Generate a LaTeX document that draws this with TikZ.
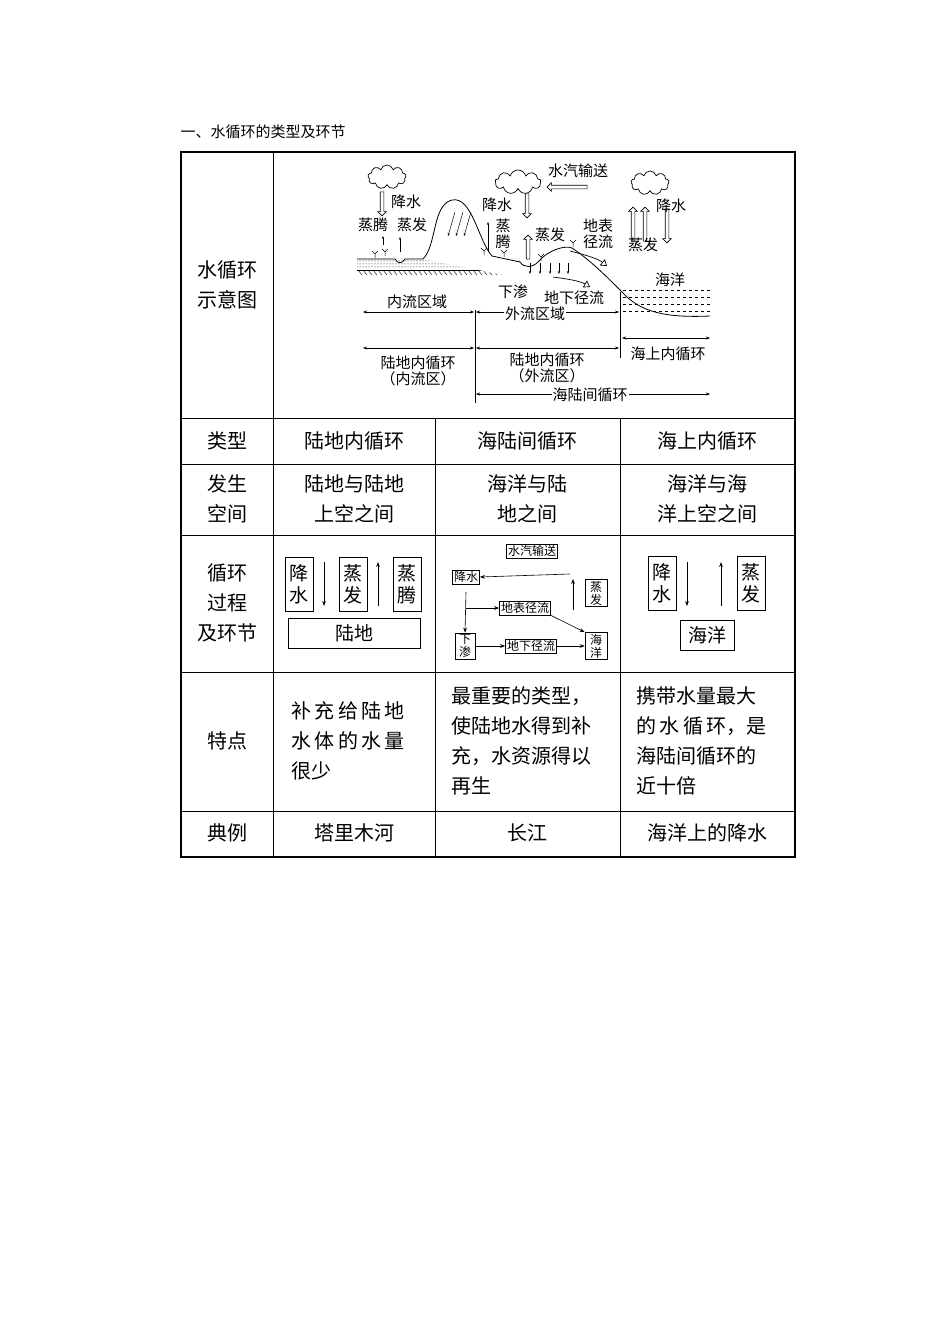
\documentclass[tikz,border=0pt]{standalone}
\usepackage{fontspec}
\setmainfont{Noto Sans CJK SC}
\usetikzlibrary{shapes.symbols,shapes.arrows,arrows.meta,patterns}
\begin{document}
\begin{tikzpicture}[x=1pt,y=-1pt,
 cell/.style={font=\fontsize{20}{30}\selectfont,align=center},
 dg/.style={font=\fontsize{15}{16}\selectfont,inner sep=0pt},
 bx/.style={draw,font=\fontsize{19}{22}\selectfont,inner sep=1pt,align=center,line width=0.8pt},
 sbx/.style={draw,font=\fontsize{12}{13}\selectfont,inner sep=1.5pt,align=center,line width=0.7pt},
 ar/.style={-{Stealth[length=5pt]},line width=0.9pt},
 hol/.style={draw,fill=white,single arrow,single arrow head extend=2.5pt,minimum height=24pt,minimum width=6pt,inner sep=1.5pt,line width=0.6pt},
 cl/.style={draw,cloud,cloud puffs=9,aspect=1.6,minimum width=38pt,minimum height=24pt,line width=0.7pt}]
\useasboundingbox (0,0) rectangle (950,1344);
\node[anchor=west,font=\fontsize{15}{16}\selectfont] (head) at (177,132) {一、水循环的类型及环节};
% table
\draw[line width=2pt] (181,152) rectangle (795,857);
\draw[line width=0.8pt] (273,152)--(273,857);
\foreach \y in {418,464,535,672,811} \draw[line width=0.8pt] (181,\y)--(795,\y);
\foreach \x in {435,620} \draw[line width=0.8pt] (\x,418)--(\x,857);
\node[cell] (l1) at (227,285) {水循环\\示意图};
\node[cell] (l2) at (227,441) {类型};
\node[cell] (l3) at (227,499) {发生\\空间};
\node[cell] (l4) at (227,603) {循环\\过程\\及环节};
\node[cell] (l5) at (227,741) {特点};
\node[cell] (l6) at (227,833) {典例};
\node[cell] (t1) at (354,441) {陆地内循环};
\node[cell] (t2) at (527,441) {海陆间循环};
\node[cell] (t3) at (707,441) {海上内循环};
\node[cell] (s1) at (354,499) {陆地与陆地\\上空之间};
\node[cell] (s2) at (527,499) {海洋与陆\\地之间};
\node[cell] (s3) at (707,499) {海洋与海\\洋上空之间};
\node[cell,align=left,anchor=west] (f1) at (288,741) {补\,充\,给\,陆\,地\\水\,体\,的\,水\,量\\很少};
\node[cell,align=left,anchor=west] (f2) at (448,741) {最重要的类型，\\使陆地水得到补\\充，水资源得以\\再生};
\node[cell,align=left,anchor=west] (f3) at (633,741) {携带水量最大\\的\,水\,循\,环，是\\海陆间循环的\\近十倍};
\node[cell] (e1) at (354,833) {塔里木河};
\node[cell] (e2) at (527,833) {长江};
\node[cell] (e3) at (707,833) {海洋上的降水};
% process col2
\node[bx,minimum width=28pt,minimum height=54pt] (a1) at (299,584) {降\\水};
\node[bx,minimum width=28pt,minimum height=54pt] (a2) at (353,584) {蒸\\发};
\node[bx,minimum width=28pt,minimum height=54pt] (a3) at (407,584) {蒸\\腾};
\node[bx,minimum width=132pt,minimum height=30pt] (a4) at (354,633) {陆地};
\coordinate (a5) at (324,562); \coordinate (a6) at (324,606);
\draw[ar] (a5)--(a6);
\coordinate (a7) at (378,606); \coordinate (a8) at (378,562);
\draw[ar] (a7)--(a8);
% process col3
\node[sbx] (b1) at (532,551) {水汽输送};
\node[sbx] (b2) at (466,577) {降水};
\node[sbx,minimum width=22pt] (b3) at (596,593) {蒸\\发};
\node[sbx] (b4) at (525,608) {地表径流};
\node[sbx,minimum width=20pt] (b5) at (465,646) {下\\渗};
\node[sbx] (b6) at (531,646) {地下径流};
\node[sbx,minimum width=22pt] (b7) at (596,646) {海\\洋};
\coordinate (b8) at (570,574);
\draw[ar,line width=0.6pt] (b8)--(b2.east);
\coordinate (b9) at (573,610); \coordinate (b10) at (573,579);
\draw[ar,line width=0.6pt] (b9)--(b10);
\coordinate (b11) at (466,592);
\draw[ar,line width=0.6pt] (b11)--(b5.north);
\coordinate (b12) at (466,608);
\draw[ar,line width=0.6pt] (b12)--(b4.west);
\draw[ar,line width=0.6pt] (b4.south east)--(b7.north west);
\draw[ar,line width=0.6pt] (b5.east)--(b6.west);
\draw[ar,line width=0.6pt] (b6.east)--(b7.west);
% process col4
\node[bx,minimum width=28pt,minimum height=54pt] (c1) at (662,583) {降\\水};
\node[bx,minimum width=28pt,minimum height=54pt] (c2) at (751,583) {蒸\\发};
\node[bx,minimum width=54pt,minimum height=30pt] (c3) at (707,635) {海洋};
\coordinate (c4) at (687,562); \coordinate (c5) at (687,606);
\draw[ar] (c4)--(c5);
\coordinate (c6) at (721,606); \coordinate (c7) at (721,562);
\draw[ar] (c6)--(c7);
% ===== diagram =====
\node[cl] (k1) at (387,177) {};
\node[cl,minimum width=46pt] (k2) at (518,182) {};
\node[cl] (k3) at (650,183) {};
\node[dg] (d1) at (578,171) {水汽输送};
\node[hol,shape border rotate=180,minimum height=40pt] (h1) at (568,187) {};
\node[dg] (d2) at (406,202) {降水};
\node[hol,shape border rotate=270] (h2) at (382,203) {};
\node[dg] (d3) at (373,225) {蒸腾};
\node[dg] (d4) at (412,225) {蒸发};
\coordinate (g1) at (383,245); \coordinate (g2) at (383,236);
\draw[-{Stealth[length=3pt]},line width=0.6pt] (g1)--(g2);
\coordinate (g3) at (400,252); \coordinate (g4) at (400,237);
\draw[-{Stealth[length=3pt]},line width=0.6pt] (g3)--(g4);
% ground
\fill[pattern=dots] (357,258) rectangle (520,268);
\draw[line width=0.8pt] (357,259)--(395,259) .. controls (398,264) and (402,264) .. (405,259)--(423,259);
\draw[line width=0.8pt] (357,270)--(520,270);
\foreach \x in {358,363,...,518} \draw[line width=0.4pt] (\x,270)--(\x+4,275);
% mountain
\draw[line width=0.8pt,fill=white] (423,259) .. controls (437,245) and (432,205) .. (452,200) .. controls (472,196) and (478,240) .. (492,256) -- (520,262) .. controls (524,268) and (532,268) .. (538,262) .. controls (548,250) and (565,245) .. (572,248) .. controls (590,260) and (605,275) .. (622,292) .. controls (640,312) and (665,318) .. (710,316);
\foreach \x in {0,8,16} \draw[-{Stealth[length=3pt]},line width=0.5pt] (455+\x,212)--(448+\x,236);
% Y plants
\foreach \x/\y in {375/258, 385/256, 484/255, 504/257, 541/261, 573/247} {
 \draw[line width=0.5pt] (\x,\y)--(\x,\y-4) (\x-3,\y-7)--(\x,\y-4)--(\x+3,\y-7);}
\node[dg] (d5) at (497,205) {降水};
\node[dg,align=center] (d6) at (503,234) {蒸\\腾};
\node[hol,shape border rotate=270] (h3) at (527,205) {};
\coordinate (g5) at (488,252); \coordinate (g6) at (488,222);
\draw[-{Stealth[length=3pt]},line width=0.6pt] (g5)--(g6);
\node[hol,shape border rotate=90] (h4) at (528,248) {};
\node[dg] (d7) at (550,235) {蒸发};
\node[dg,align=center] (d8) at (598,234) {地表\\径流};
\draw[line width=0.7pt,-{Triangle[open,length=6pt,width=8pt]}] (570,251) .. controls (585,255) and (597,258) .. (607,266);
\draw[line width=0.7pt,-{Triangle[open,length=6pt,width=8pt]}] (553,277) .. controls (568,279) and (580,281) .. (590,287);
\foreach \x in {530,540,550,559,568} \draw[-{Stealth[length=3pt]},line width=0.5pt] (\x,263)--(\x,274);
\node[dg] (d9) at (670,280) {海洋};
\foreach \y in {290,297,304,311} \draw[dashed,line width=0.5pt] (623,\y)--(710,\y);
\node[dg] (d10) at (513,292) {下渗};
\node[dg] (d11) at (574,298) {地下径流};
% hollow arrows at sea
\node[hol,shape border rotate=90,minimum height=34pt] (h5) at (633,225) {};
\node[hol,shape border rotate=90,minimum height=34pt] (h6) at (645,225) {};
\node[hol,shape border rotate=270,minimum height=34pt] (h7) at (667,225) {};
\node[dg] (d12) at (671,206) {降水};
\node[dg] (d13) at (643,245) {蒸发};
% zone lines
\draw[line width=0.7pt] (475,310)--(475,403);
\draw[line width=0.7pt] (620,292)--(620,358);
\node[dg,fill=white,inner sep=1pt] (d14) at (417,302) {内流区域};
\draw[{Stealth[length=4pt]}-{Stealth[length=4pt]},line width=0.5pt] (363,312)--(474,312);
\draw[{Stealth[length=4pt]}-{Stealth[length=4pt]},line width=0.5pt] (476,312)--(619,312);
\node[dg,fill=white,inner sep=1pt] (d15) at (535,314) {外流区域};
\draw[{Stealth[length=4pt]}-{Stealth[length=4pt]},line width=0.5pt] (363,348)--(474,348);
\draw[{Stealth[length=4pt]}-{Stealth[length=4pt]},line width=0.5pt] (476,348)--(619,348);
\draw[{Stealth[length=4pt]}-{Stealth[length=4pt]},line width=0.5pt] (622,338)--(710,338);
\node[dg] (d16) at (668,354) {海上内循环};
\node[dg,align=center] (d17) at (418,371) {陆地内循环\\（内流区）};
\node[dg,align=center] (d18) at (547,368) {陆地内循环\\（外流区）};
\draw[{Stealth[length=4pt]}-{Stealth[length=4pt]},line width=0.5pt] (476,394)--(710,394);
\node[dg,fill=white,inner sep=1pt] (d19) at (590,395) {海陆间循环};
\end{tikzpicture}
\end{document}
